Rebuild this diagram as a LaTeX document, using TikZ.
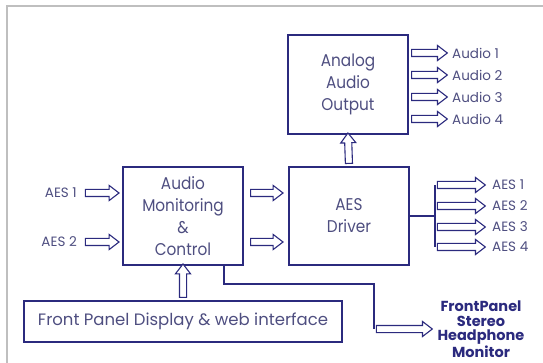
\documentclass[tikz,border=0pt]{standalone}
\usepackage{fontspec}
\setmainfont{Poppins}
\newfontfamily\boxfont[FakeStretch=0.9]{Poppins}
\usetikzlibrary{positioning,calc,shapes.arrows}
\definecolor{navy}{HTML}{2B2A7E}
\definecolor{txtblue}{HTML}{4E4E80}
% hollow block arrow between two points
\newcommand\blockarrow[2]{%
  \path let \p1=(#1), \p2=(#2), \n1={veclen(\x2-\x1,\y2-\y1)},
    \n2={atan2(\y2-\y1,\x2-\x1)} in
    node[blkarrow, minimum height=\n1, rotate=\n2] at ($(\p1)!0.5!(\p2)$) {};}
\begin{document}
\begin{tikzpicture}[x=1pt, y=-1pt,
  box/.style={draw=navy, line width=2.6pt, text=txtblue, align=center, inner sep=0pt,
    font=\boxfont\fontsize{17}{22}\selectfont},
  lbl/.style={text=txtblue, inner sep=0pt, font=\fontsize{13.5}{15}\selectfont},
  blkarrow/.style={single arrow, draw=navy, fill=white, line width=1.1pt,
    inner xsep=0pt, inner ysep=3pt, single arrow head extend=4pt, single arrow tip angle=75},
  wire/.style={draw=navy, line width=1.3pt}]
\useasboundingbox (0,0) rectangle (543,363);
\draw[black!25, line width=1.5pt] (7,363) -- (7,6) -- (543,6);
% blocks
\node[box, minimum width=120, minimum height=99] (ana) at (348,84.5) {Analog\\Audio\\Output};
\node[box, minimum width=120, minimum height=98] (mon) at (183,216) {Audio\\Monitoring\\\&\\Control};
\node[box, minimum width=120, minimum height=98] (drv) at (349,216) {AES\\Driver};
\node[box, minimum width=318, minimum height=41, font=\fontsize{16.5}{20}\selectfont] (fp) at (183,321.5) {Front Panel Display \& web interface};
% analog outputs
\foreach \i/\y in {1/53,2/75,3/97,4/119}{
  \node[lbl, anchor=west] (au\i) at (452,\y) {Audio \i};
  \blockarrow{ana.east |- au\i}{[xshift=-7pt]au\i.west}
}
% inputs
\foreach \i/\y in {1/193,2/242}{
  \node[lbl, anchor=east] (in\i) at (77,\y) {AES \i};
  \blockarrow{[xshift=6pt]in\i.east}{[xshift=-5pt]mon.west |- in\i}
  \blockarrow{[xshift=4pt]mon.east |- in\i}{[xshift=-7pt]drv.west |- in\i}
}
% AES outputs
\coordinate (bus) at (435,216);
\draw[wire] (drv.east |- bus) -- (bus);
\foreach \i/\y in {1/185,2/206,3/227,4/247}{
  \node[lbl, anchor=west] (aes\i) at (492,\y) {AES \i};
  \blockarrow{bus |- aes\i}{[xshift=-9pt]aes\i.west}
}
\draw[wire] (bus |- aes1) -- (bus |- aes4);
% vertical links
\blockarrow{drv.north}{ana.south}
\blockarrow{fp.north}{mon.south}
% headphone monitor
\node[text=navy, align=center, inner sep=0pt, font=\bfseries\fontsize{14.5}{14.7}\selectfont] (hp) at (481,329) {FrontPanel\\Stereo\\Headphone\\Monitor};
\coordinate (hpbend) at (374,284);
\draw[wire] (mon.south -| 224,0) -- (224,284) -- (hpbend) -- (hpbend |- hp);
\blockarrow{hpbend |- hp}{430,329}
\end{tikzpicture}
\end{document}
